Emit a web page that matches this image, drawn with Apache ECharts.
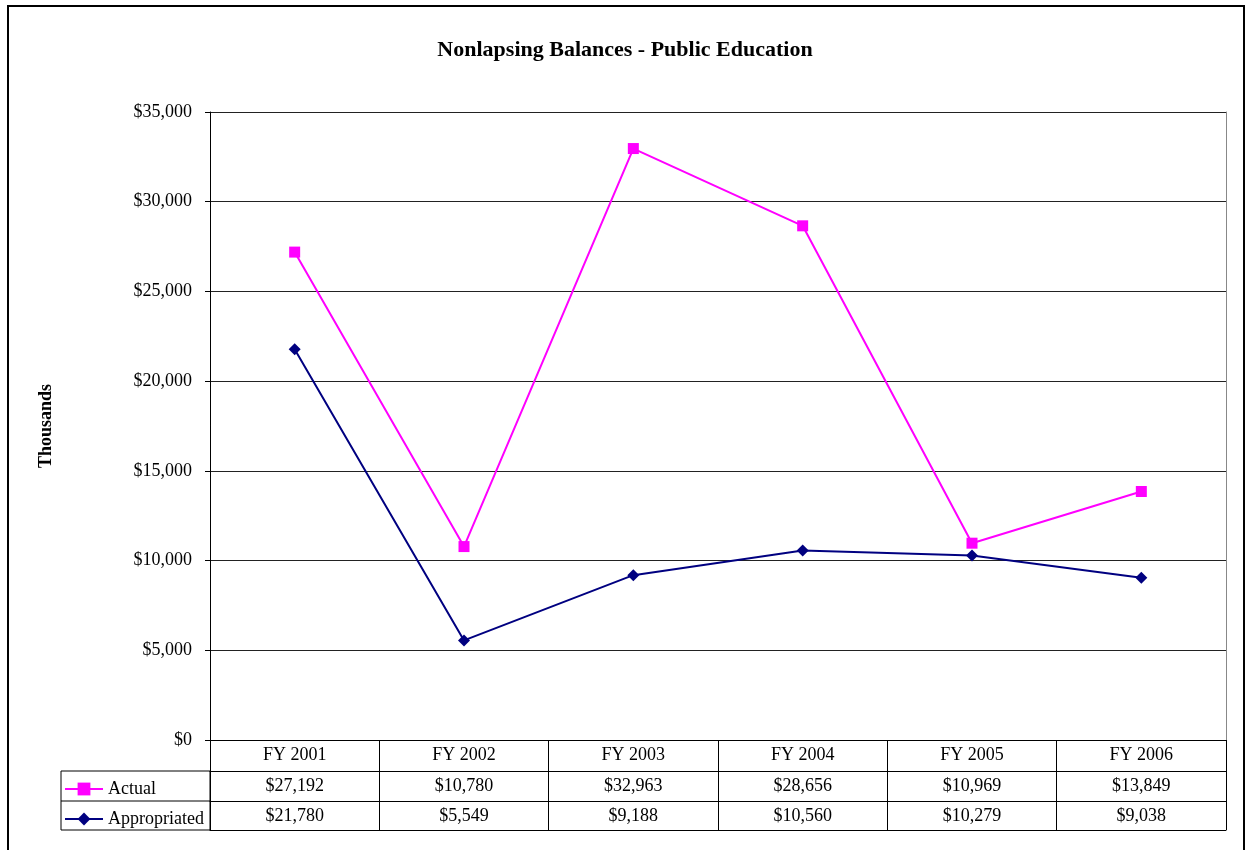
<!DOCTYPE html>
<html>
<head>
    <meta charset="UTF-8" />
    <title>Nonlapsing Balances - Public Education</title>
    <script src="https://cdn.jsdelivr.net/npm/echarts@6/dist/echarts.min.js"></script>
    <style>
        html, body { margin: 0; padding: 0; background: #fff; }
        #chart { width: 1250px; height: 850px; }
    </style>
</head>
<body>
<div id="chart"></div>
<script>
    // data
    var years = ['FY 2001', 'FY 2002', 'FY 2003', 'FY 2004', 'FY 2005', 'FY 2006'];
    var actual = [27192, 10780, 32963, 28656, 10969, 13849];
    var appropriated = [21780, 5549, 9188, 10560, 10279, 9038];
    var yTicks = [0, 5000, 10000, 15000, 20000, 25000, 30000, 35000];

    var serif = '"Liberation Serif", "Times New Roman", serif';

    function money(v) {
        return '$' + Number(v).toLocaleString('en-US');
    }

    var chart = echarts.init(document.getElementById('chart'));

    // table row axes share the category list, show one row each
    function rowAxis(offset, labels, showTicks) {
        return {
            type: 'category',
            position: 'bottom',
            offset: offset,
            data: labels || years,
            boundaryGap: true,
            axisLine: { show: true, onZero: false, lineStyle: { color: '#000', width: 1 } },
            axisTick: { show: showTicks, interval: 0, length: 90, alignWithLabel: false, lineStyle: { color: '#000' } },
            axisLabel: {
                show: labels !== null,
                interval: 0,
                margin: 6,
                fontFamily: serif,
                fontSize: 18,
                color: '#000'
            },
            splitLine: { show: false }
        };
    }

    var option = {
        animation: false,
        backgroundColor: '#fff',
        title: {
            text: 'Nonlapsing Balances - Public Education',
            left: 'center',
            top: 34,
            textStyle: { fontFamily: serif, fontSize: 22, fontWeight: 'bold', color: '#000' }
        },
        legend: {
            orient: 'vertical',
            left: 64,
            top: 780,
            padding: 0,
            itemWidth: 38,
            itemHeight: 16,
            itemGap: 12,
            textStyle: { fontFamily: serif, fontSize: 18, color: '#000' },
            data: ['Actual', 'Appropriated']
        },
        grid: { left: 210, right: 24, top: 112, bottom: 110, containLabel: false },
        xAxis: [
            rowAxis(0, years, true),
            rowAxis(31, actual.map(money), false),
            rowAxis(61, appropriated.map(money), false),
            rowAxis(90, null, false)
        ],
        yAxis: [{
            type: 'value',
            min: yTicks[0],
            max: yTicks[yTicks.length - 1],
            interval: 5000,
            name: 'Thousands',
            nameLocation: 'middle',
            nameGap: 155,
            nameTextStyle: { fontFamily: serif, fontSize: 18, fontWeight: 'bold', color: '#000' },
            axisLine: { show: true, lineStyle: { color: '#000', width: 1 } },
            axisTick: { show: true, length: 5, lineStyle: { color: '#000' } },
            axisLabel: { margin: 18, fontFamily: serif, fontSize: 18, color: '#000', formatter: money },
            splitLine: { show: true, lineStyle: { color: '#222', width: 1 } }
        }, {
            type: 'value',
            position: 'right',
            min: yTicks[0],
            max: yTicks[yTicks.length - 1],
            interval: 5000,
            axisLine: { show: true, lineStyle: { color: '#888', width: 1 } },
            axisTick: { show: false },
            axisLabel: { show: false },
            splitLine: { show: false }
        }],
        graphic: [
            // outer chart frame
            { type: 'rect', shape: { x: 8, y: 6, width: 1236, height: 870 },
              style: { fill: 'none', stroke: '#000', lineWidth: 2 }, silent: true },
            // legend column of the data table
            { type: 'rect', shape: { x: 61, y: 771, width: 149, height: 59 },
              style: { fill: 'none', stroke: '#000', lineWidth: 1 }, silent: true },
            { type: 'line', shape: { x1: 61, y1: 801, x2: 210, y2: 801 },
              style: { stroke: '#000', lineWidth: 1 }, silent: true }
        ],
        series: [{
            name: 'Actual',
            type: 'line',
            data: actual,
            symbol: 'rect',
            symbolSize: 11,
            color: '#ff00ff',
            lineStyle: { color: '#ff00ff', width: 2 },
            itemStyle: { color: '#ff00ff' }
        }, {
            name: 'Appropriated',
            type: 'line',
            data: appropriated,
            symbol: 'diamond',
            symbolSize: 12,
            color: '#000080',
            lineStyle: { color: '#000080', width: 2 },
            itemStyle: { color: '#000080' }
        }]
    };

    chart.setOption(option);
</script>
</body>
</html>
